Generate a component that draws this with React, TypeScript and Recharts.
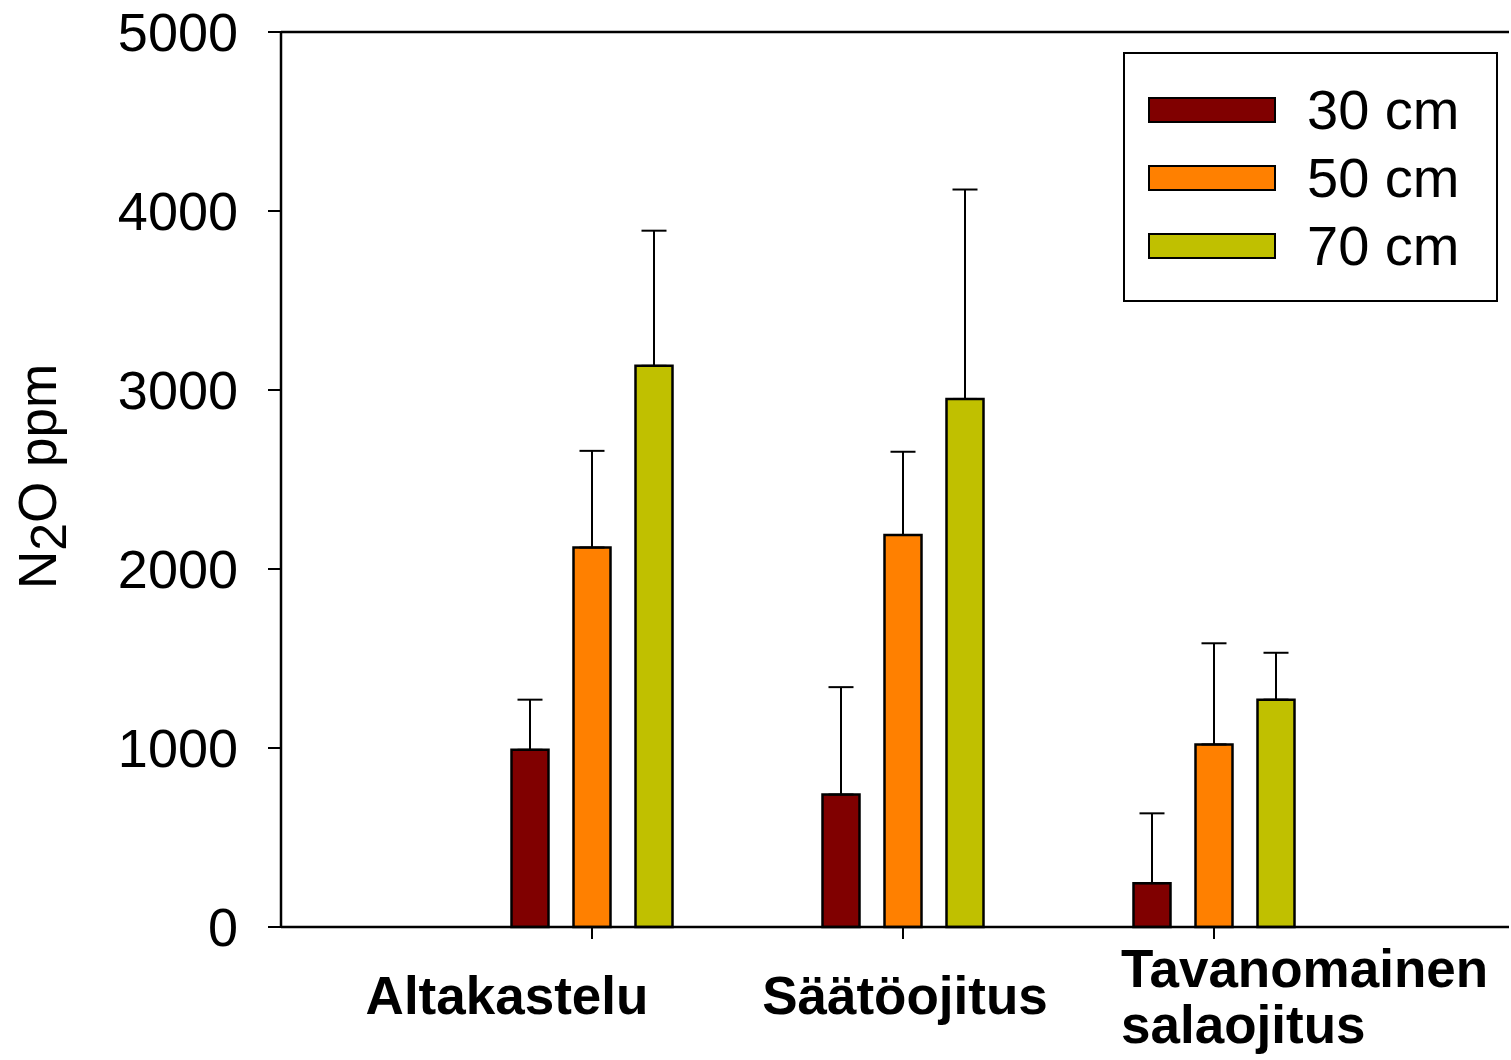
import React from 'react';
import { BarChart, Bar, XAxis, YAxis, ErrorBar, ReferenceLine, Legend } from 'recharts';

const categories = ['Altakastelu', 'Säätöojitus', 'Tavanomainen salaojitus'];
const mean30 = [990, 740, 245];
const mean50 = [2120, 2190, 1020];
const mean70 = [3135, 2950, 1270];
const err30 = [280, 600, 390];
const err50 = [540, 465, 565];
const err70 = [755, 1170, 262];
const seriesNames = ['30 cm', '50 cm', '70 cm'];
const seriesColors = ['#800000', '#FF8000', '#C0C000'];
const yTicks = [0, 1000, 2000, 3000, 4000, 5000];

const data = categories.map((c, i) => ({
  name: c,
  v30: mean30[i],
  v50: mean50[i],
  v70: mean70[i],
  e30: [0, err30[i]],
  e50: [0, err50[i]],
  e70: [0, err70[i]],
}));

const FONT = '"Liberation Sans", Arial, Helvetica, sans-serif';

const XTick = (props: any) => {
  const { x, y, payload, index } = props;
  const style = { fontFamily: FONT, fontSize: 53, fontWeight: 700, fill: '#000' } as any;
  const words = String(payload.value).split(' ');
  if (words.length > 1) {
    return (
      <g>
        <text x={x - 93} y={y + 46} textAnchor="start" {...style}>{words[0]}</text>
        <text x={x - 93} y={y + 102} textAnchor="start" {...style}>{words.slice(1).join(' ')}</text>
      </g>
    );
  }
  const dx = index === 0 ? -85 : 2;
  return (
    <text x={x + dx} y={y + 73} textAnchor="middle" {...style}>{payload.value}</text>
  );
};

const LegendBox = () => (
  <div
    style={{
      position: 'relative',
      width: 375,
      height: 250,
      border: '2px solid #000',
      boxSizing: 'border-box',
      background: '#fff',
      fontFamily: FONT,
    }}
  >
    {seriesNames.map((n, i) => (
      <div
        key={n}
        style={{
          position: 'absolute',
          left: 0,
          top: 22 + i * 68,
          height: 68,
          width: '100%',
          display: 'flex',
          alignItems: 'center',
        }}
      >
        <div
          style={{
            position: 'absolute',
            left: 23,
            width: 128,
            height: 26,
            boxSizing: 'border-box',
            border: '2.5px solid #000',
            background: seriesColors[i],
          }}
        />
        <span style={{ position: 'absolute', left: 182, fontSize: 56, color: '#000', lineHeight: '68px' }}>{n}</span>
      </div>
    ))}
  </div>
);

const YLabel = (props: any) => {
  const vb = props.viewBox || { x: 0, y: 0, width: 0, height: 0 };
  const cx = vb.x + 56;
  const cy = vb.y + vb.height / 2 - 3;
  return (
    <text
      x={cx}
      y={cy}
      transform={`rotate(-90, ${cx}, ${cy})`}
      textAnchor="middle"
      fontFamily={FONT}
      fontSize={53}
      fill="#000"
    >
      N<tspan dy={10} fontSize={50}>2</tspan>
      <tspan dy={-10}>O ppm</tspan>
    </text>
  );
};

export default function App() {
  const keys = ['v30', 'v50', 'v70'];
  const errs = ['e30', 'e50', 'e70'];
  return (
    <div style={{ position: 'absolute', left: 0, top: 0, background: '#fff' }}>
      <BarChart
        width={1511}
        height={1060}
        data={data}
        margin={{ top: 32, right: 2, bottom: 0, left: 0 }}
        barGap={25}
        barSize={37}
      >
        <ReferenceLine y={5000} stroke="#000" strokeWidth={2.5} ifOverflow="extendDomain" />
        <XAxis
          dataKey="name"
          type="category"
          height={133}
          padding={{ left: 155.5, right: 139.5 }}
          axisLine={{ stroke: '#000', strokeWidth: 2.5 }}
          tickLine={{ stroke: '#000', strokeWidth: 2 }}
          tickSize={12}
          tick={<XTick />}
          interval={0}
        />
        <YAxis
          type="number"
          domain={[0, 5000]}
          ticks={yTicks}
          interval={0}
          width={281}
          axisLine={{ stroke: '#000', strokeWidth: 2.5 }}
          tickLine={{ stroke: '#000', strokeWidth: 2 }}
          tickSize={13}
          tickMargin={30}
          tick={{ fontFamily: FONT, fontSize: 54, fill: '#000' }}
          label={{ content: <YLabel /> }}
        />
        <Legend
          layout="horizontal"
          verticalAlign="middle"
          align="center"
          wrapperStyle={{ position: 'absolute', left: 1123, top: 52, width: 375, height: 250 }}
          content={<LegendBox />}
        />
        {keys.map((k, i) => (
          <Bar
            key={k}
            dataKey={k}
            name={seriesNames[i]}
            fill={seriesColors[i]}
            stroke="#000"
            strokeWidth={2.5}
            isAnimationActive={false}
          >
            <ErrorBar dataKey={errs[i]} direction="y" width={12.5} stroke="#000" strokeWidth={2} />
          </Bar>
        ))}
      </BarChart>
    </div>
  );
}
